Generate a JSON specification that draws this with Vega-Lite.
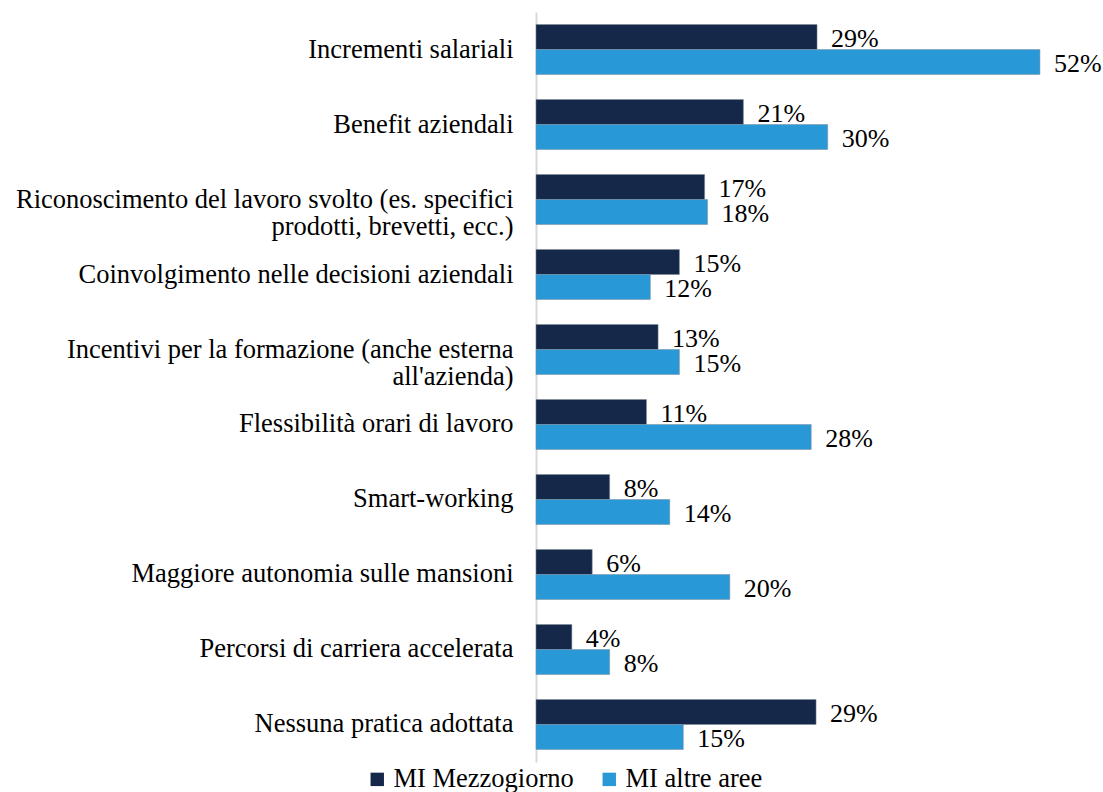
{
  "$schema": "https://vega.github.io/schema/vega-lite/v6.json",
  "autosize": {"type": "none"},
  "padding": {"left": 536, "top": 12, "right": 34, "bottom": 30},
  "width": 533,
  "height": 750,
  "background": "white",
  "config": {
    "view": {"stroke": null},
    "font": "Liberation Serif"
  },
  "data": {
    "values": [
      {"categoria": "Incrementi salariali", "serie": "MI Mezzogiorno", "valore": 0.290},
      {"categoria": "Incrementi salariali", "serie": "MI altre aree", "valore": 0.520},
      {"categoria": "Benefit aziendali", "serie": "MI Mezzogiorno", "valore": 0.214},
      {"categoria": "Benefit aziendali", "serie": "MI altre aree", "valore": 0.301},
      {"categoria": "Riconoscimento del lavoro svolto (es. specifici\nprodotti, brevetti, ecc.)", "serie": "MI Mezzogiorno", "valore": 0.174},
      {"categoria": "Riconoscimento del lavoro svolto (es. specifici\nprodotti, brevetti, ecc.)", "serie": "MI altre aree", "valore": 0.177},
      {"categoria": "Coinvolgimento nelle decisioni aziendali", "serie": "MI Mezzogiorno", "valore": 0.148},
      {"categoria": "Coinvolgimento nelle decisioni aziendali", "serie": "MI altre aree", "valore": 0.118},
      {"categoria": "Incentivi per la formazione (anche esterna\nall'azienda)", "serie": "MI Mezzogiorno", "valore": 0.126},
      {"categoria": "Incentivi per la formazione (anche esterna\nall'azienda)", "serie": "MI altre aree", "valore": 0.148},
      {"categoria": "Flessibilità orari di lavoro", "serie": "MI Mezzogiorno", "valore": 0.114},
      {"categoria": "Flessibilità orari di lavoro", "serie": "MI altre aree", "valore": 0.284},
      {"categoria": "Smart-working", "serie": "MI Mezzogiorno", "valore": 0.076},
      {"categoria": "Smart-working", "serie": "MI altre aree", "valore": 0.138},
      {"categoria": "Maggiore autonomia sulle mansioni", "serie": "MI Mezzogiorno", "valore": 0.058},
      {"categoria": "Maggiore autonomia sulle mansioni", "serie": "MI altre aree", "valore": 0.200},
      {"categoria": "Percorsi di carriera accelerata", "serie": "MI Mezzogiorno", "valore": 0.037},
      {"categoria": "Percorsi di carriera accelerata", "serie": "MI altre aree", "valore": 0.076},
      {"categoria": "Nessuna pratica adottata", "serie": "MI Mezzogiorno", "valore": 0.289},
      {"categoria": "Nessuna pratica adottata", "serie": "MI altre aree", "valore": 0.152}
    ]
  },
  "encoding": {
    "y": {
      "field": "categoria",
      "type": "nominal",
      "sort": null,
      "scale": {"paddingInner": 0.3333, "paddingOuter": 0.1667},
      "axis": {
        "title": null,
        "ticks": false,
        "domain": true,
        "domainColor": "#d9d9d9",
        "domainWidth": 2,
        "labelFont": "Liberation Serif",
        "labelFontSize": 26.5,
        "labelColor": "#000000",
        "labelPadding": 23,
        "labelLimit": 700,
        "labelLineHeight": 27,
        "labelExpr": "split(datum.label, '\\n')"
      }
    },
    "yOffset": {
      "field": "serie",
      "type": "nominal",
      "scale": {"domain": ["MI Mezzogiorno", "MI altre aree"], "paddingInner": 0, "paddingOuter": 0}
    },
    "x": {
      "field": "valore",
      "type": "quantitative",
      "scale": {"domain": [0, 0.55], "nice": false},
      "axis": null
    }
  },
  "layer": [
    {
      "mark": {"type": "bar", "stroke": "#7f8a99", "strokeWidth": 0.5},
      "encoding": {
        "color": {
          "field": "serie",
          "type": "nominal",
          "scale": {"domain": ["MI Mezzogiorno", "MI altre aree"], "range": ["#15284a", "#2998d6"]},
          "legend": {
            "title": null,
            "orient": "none",
            "direction": "horizontal",
            "legendX": -172,
            "legendY": 754,
            "symbolType": "square",
            "symbolSize": 180,
            "symbolStrokeWidth": 0,
            "labelFont": "Liberation Serif",
            "labelFontSize": 26.5,
            "labelColor": "#000000",
            "labelOffset": 3,
            "columnPadding": 22,
            "labelLimit": 400
          }
        }
      }
    },
    {
      "mark": {"type": "text", "align": "left", "baseline": "middle", "dx": 14, "dy": 2, "font": "Liberation Serif", "fontSize": 26, "color": "#000000"},
      "encoding": {
        "text": {"field": "valore", "type": "quantitative", "format": ".0%"}
      }
    }
  ]
}
